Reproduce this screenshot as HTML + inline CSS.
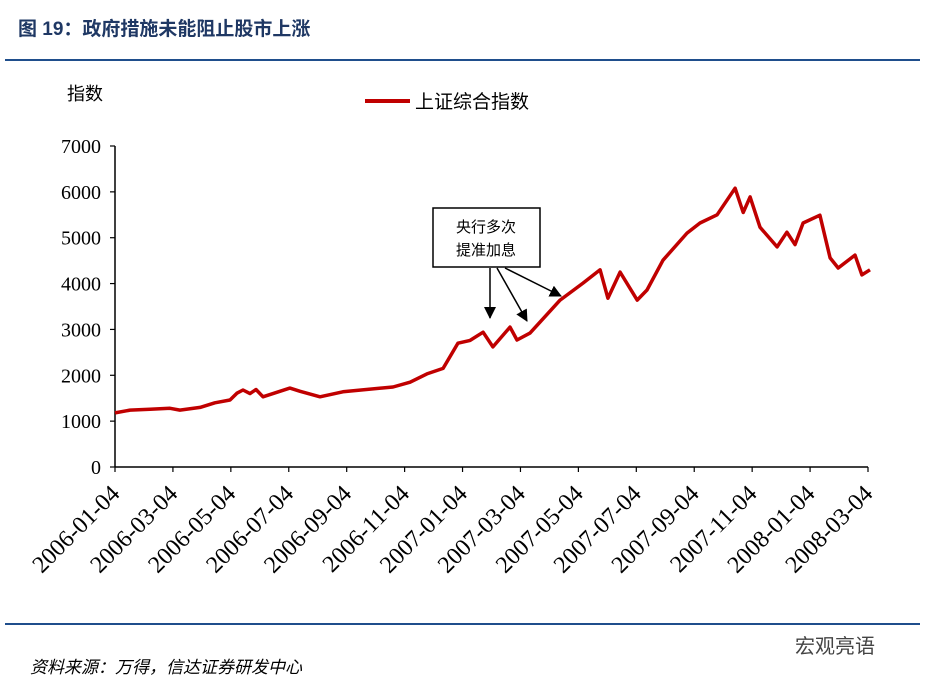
<!DOCTYPE html>
<html><head><meta charset="utf-8"><style>
body{margin:0;background:#fff;}
svg{display:block;font-family:"Liberation Serif","Noto Serif CJK SC",serif;}
</style></head><body>
<svg width="925" height="686" xmlns="http://www.w3.org/2000/svg">
<text x="18" y="35" font-size="19" font-weight="bold" fill="#1f3864" font-family="Liberation Sans,Noto Sans CJK SC,sans-serif">图 19：政府措施未能阻止股市上涨</text>
<line x1="5" y1="60" x2="920" y2="60" stroke="#1f4e8c" stroke-width="2"/>
<line x1="5" y1="624" x2="920" y2="624" stroke="#1f4e8c" stroke-width="2"/>
<text x="30" y="673" font-size="17" font-style="italic" fill="#000" font-family="Liberation Serif,Noto Sans CJK SC,serif">资料来源：万得，信达证券研发中心</text>
<text x="795" y="653" font-size="20" fill="#444" font-family="Liberation Sans,Noto Sans CJK SC,sans-serif">宏观亮语</text>
<text x="67" y="100" font-size="18" font-family="Liberation Sans,Noto Sans CJK SC,sans-serif">指数</text>
<line x1="365" y1="101" x2="410" y2="101" stroke="#c00000" stroke-width="4"/>
<text x="415" y="108" font-size="19" font-family="Liberation Sans,Noto Sans CJK SC,sans-serif">上证综合指数</text>
<g id="axes"></g>
<path id="series" fill="none" stroke="#c00000" stroke-width="3.5" stroke-linejoin="round"/>
<g>
<rect x="433" y="208" width="107" height="59" fill="#fff" stroke="#000" stroke-width="1.5"/>
<text x="486" y="232" font-size="15" text-anchor="middle" font-family="Liberation Sans,Noto Sans CJK SC,sans-serif">央行多次</text>
<text x="486" y="255" font-size="15" text-anchor="middle" font-family="Liberation Sans,Noto Sans CJK SC,sans-serif">提准加息</text>
<defs><marker id="ah" markerWidth="12" markerHeight="12" refX="11" refY="6" orient="auto" markerUnits="userSpaceOnUse"><path d="M0,0 L12,6 L0,12 z" fill="#000"/></marker></defs>
<line x1="490" y1="268" x2="490" y2="318" stroke="#000" stroke-width="1.5" marker-end="url(#ah)"/>
<line x1="497" y1="268" x2="527" y2="321" stroke="#000" stroke-width="1.5" marker-end="url(#ah)"/>
<line x1="505" y1="268" x2="561" y2="296" stroke="#000" stroke-width="1.5" marker-end="url(#ah)"/>
</g>
</svg>
<script>
const tickLabels=["2006-01-04","2006-03-04","2006-05-04","2006-07-04","2006-09-04","2006-11-04","2007-01-04","2007-03-04","2007-05-04","2007-07-04","2007-09-04","2007-11-04","2008-01-04","2008-03-04"];
const yTicks=[0,1000,2000,3000,4000,5000,6000,7000];
const months=[0,0.52,1.21,1.9,2.24,2.94,3.45,3.97,4.21,4.42,4.66,4.87,5.11,6.04,6.39,7.08,7.87,9.6,10.19,10.77,11.33,11.84,12.26,12.71,13.05,13.64,13.88,14.33,15.37,16.16,16.75,17.02,17.44,18.03,18.37,18.92,19.75,20.2,20.79,21.41,21.69,21.93,22.27,22.86,23.2,23.48,23.76,24.34,24.69,24.97,25.55,25.79,26.07];
const values=[1180,1240,1260,1280,1240,1300,1400,1460,1610,1680,1600,1690,1530,1720,1650,1530,1640,1745,1850,2030,2150,2700,2760,2940,2620,3050,2770,2920,3640,4010,4300,3680,4250,3640,3860,4510,5100,5320,5500,6080,5550,5890,5230,4800,5120,4850,5320,5490,4560,4340,4620,4190,4300];
const X0=115,X1=868,Y0=467,Y1=146;
const xs=m=>X0+(X1-X0)*m/26;
const ys=v=>Y0-(Y0-Y1)*v/7000;
const NS="http://www.w3.org/2000/svg";
const ax=document.getElementById('axes');
function mk(t,a){const e=document.createElementNS(NS,t);for(const k in a)e.setAttribute(k,a[k]);ax.appendChild(e);return e;}
let e=mk('line',{x1:X0,y1:Y1,x2:X0,y2:Y0,stroke:'#000','stroke-width':1.5});


e=mk('line',{x1:X0,y1:Y0,x2:X1,y2:Y0,stroke:'#000','stroke-width':1.5});


yTicks.forEach(v=>{
 const t=mk('line',{x1:X0-5,y1:ys(v),x2:X0,y2:ys(v),stroke:'#000','stroke-width':1.2});
 
 
 const l=mk('text',{x:X0-14,y:ys(v)+7,'font-size':20,'text-anchor':'end'});
 l.textContent=v;
 
 
});
tickLabels.forEach((s,i)=>{
 const x=xs(i*2);
 const t=mk('line',{x1:x,y1:Y0,x2:x,y2:Y0+5,stroke:'#000','stroke-width':1.2});
 
 
 const l=mk('text',{x:x+6,y:Y0+28,'font-size':24,'text-anchor':'end',transform:`rotate(-45 ${x+6} ${Y0+28})`});
 l.textContent=s;
 
 
});
document.getElementById('series').setAttribute('d',months.map((m,i)=>(i?'L':'M')+xs(m).toFixed(1)+','+ys(values[i]).toFixed(1)).join(' '));
</script>
</body></html>
